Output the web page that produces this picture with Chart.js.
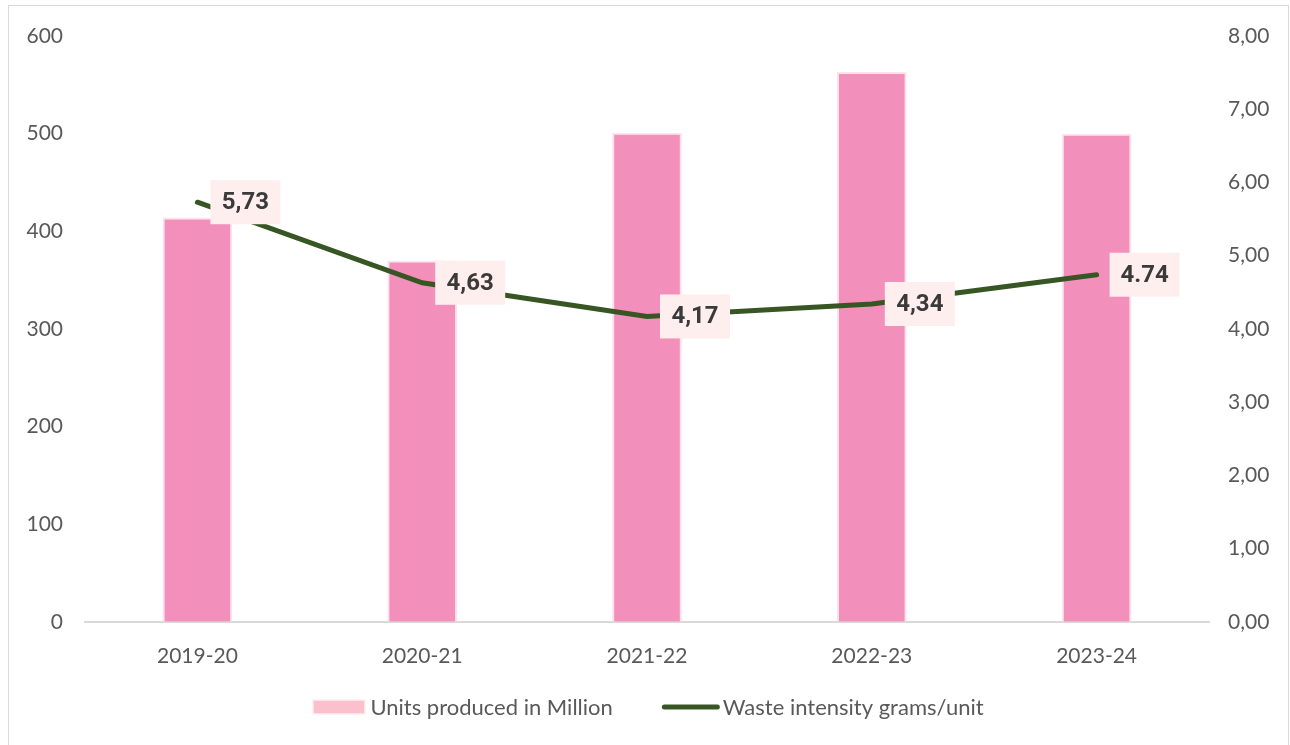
<!DOCTYPE html>
<html>
<head>
<meta charset="utf-8">
<script src="https://cdn.jsdelivr.net/npm/chart.js@4"></script>
<style>
  html, body { margin: 0; padding: 0; background: #fff; overflow: hidden; }
  #frame {
    position: absolute; left: 8px; top: 5px;
    width: 1279px; height: 760px;
    border: 1px solid #d9d9d9;
  }
  #wrap { position: absolute; left: 0; top: 0; width: 1279px; height: 740px; }
</style>
</head>
<body>
<div id="frame"><div id="wrap"><canvas id="myChart"></canvas></div></div>
<script>
// --- data ---
const years = ['2019-20', '2020-21', '2021-22', '2022-23', '2023-24'];
const unitsProduced = [414, 370, 501, 563, 500];
const wasteIntensity = [5.73, 4.63, 4.17, 4.34, 4.74];
const intensityLabels = ['5,73', '4,63', '4,17', '4,34', '4.74'];

const barColor = '#f28fba';
const barSwatch = '#fcc0cc';
const lineColor = '#375623';
const tickColor = '#595959';
const baseFont = 'Lato, "Open Sans", sans-serif';

// boxed value labels to the right of each line point
const valueBoxes = {
    id: 'valueBoxes',
    afterDatasetsDraw(chart) {
        const ctx = chart.ctx;
        const meta = chart.getDatasetMeta(1);
        ctx.save();
        ctx.font = '700 24px Roboto, sans-serif';
        ctx.textAlign = 'center';
        ctx.textBaseline = 'middle';
        meta.data.forEach((pt, i) => {
            const cx = pt.x + 48;
            const cy = pt.y;
            ctx.fillStyle = '#ffeeee';
            ctx.fillRect(cx - 35, cy - 22, 70, 44);
            ctx.fillStyle = '#3a3a3a';
            ctx.fillText(intensityLabels[i], cx, cy + 1);
        });
        ctx.restore();
    }
};

// legend row under the axis: pink box for the bars, thick stroke for the line
const bottomLegend = {
    id: 'bottomLegend',
    afterDraw(chart) {
        const ctx = chart.ctx;
        const sets = chart.data.datasets;
        const y = 701;
        ctx.save();
        ctx.font = '22px ' + baseFont;
        ctx.textBaseline = 'middle';
        const w0 = ctx.measureText(sets[0].label).width;
        const w1 = ctx.measureText(sets[1].label).width;
        const total = 51 + 6 + w0 + 49 + 58 + 3 + w1;
        let x = chart.width / 2 - total / 2;

        ctx.fillStyle = barSwatch;
        ctx.fillRect(x, y - 6.5, 51, 13);
        ctx.strokeStyle = '#fde6ec';
        ctx.lineWidth = 1;
        ctx.strokeRect(x - 0.5, y - 7, 52, 14);
        x += 51 + 6;
        ctx.fillStyle = tickColor;
        ctx.fillText(sets[0].label, x, y + 1);
        x += w0 + 49;

        ctx.strokeStyle = lineColor;
        ctx.lineWidth = 5;
        ctx.lineCap = 'round';
        ctx.beginPath();
        ctx.moveTo(x + 2.5, y);
        ctx.lineTo(x + 55.5, y);
        ctx.stroke();
        x += 58 + 3;
        ctx.fillText(sets[1].label, x, y + 1);
        ctx.restore();
    }
};

function renderChart() {
    const ctx = document.getElementById('myChart').getContext('2d');

    const chartConfig = {
        type: 'bar',
        data: {
            labels: years,
            datasets: [
                {
                    label: 'Units produced in Million',
                    data: unitsProduced,
                    backgroundColor: barColor,
                    borderColor: '#fde2ec',
                    borderWidth: 2,
                    categoryPercentage: 1,
                    barPercentage: 0.31,
                    yAxisID: 'y',
                    order: 2
                },
                {
                    type: 'line',
                    label: 'Waste intensity grams/unit',
                    data: wasteIntensity,
                    borderColor: lineColor,
                    backgroundColor: lineColor,
                    borderWidth: 5,
                    borderCapStyle: 'round',
                    pointRadius: 0,
                    tension: 0,
                    yAxisID: 'y1',
                    order: 1
                }
            ]
        },
        plugins: [valueBoxes, bottomLegend],
        options: {
            responsive: true,
            maintainAspectRatio: false,
            animation: false,
            layout: { padding: { top: 30, bottom: 55, left: 0, right: 0 } },
            plugins: {
                legend: { display: false },
                tooltip: { enabled: false }
            },
            scales: {
                x: {
                    grid: { display: false, drawTicks: false },
                    border: { color: '#d9d9d9', width: 2 },
                    ticks: {
                        color: tickColor,
                        padding: 22,
                        font: { family: baseFont, size: 21 }
                    }
                },
                y: {
                    position: 'left',
                    min: 0,
                    max: 600,
                    grid: { display: false, drawTicks: false },
                    border: { display: false },
                    ticks: {
                        stepSize: 100,
                        color: tickColor,
                        padding: 22,
                        font: { family: baseFont, size: 21, lineHeight: 0.6 }
                    },
                    afterFit(scale) { scale.width = 76; }
                },
                y1: {
                    position: 'right',
                    min: 0,
                    max: 8,
                    grid: { display: false, drawTicks: false },
                    border: { display: false },
                    ticks: {
                        stepSize: 1,
                        color: tickColor,
                        padding: 19,
                        font: { family: baseFont, size: 21, lineHeight: 0.6 },
                        callback: (v) => v.toFixed(2).replace('.', ',')
                    },
                    afterFit(scale) { scale.width = 79; }
                }
            }
        }
    };

    const myChart = new Chart(ctx, chartConfig);
}

renderChart();
</script>
</body>
</html>
